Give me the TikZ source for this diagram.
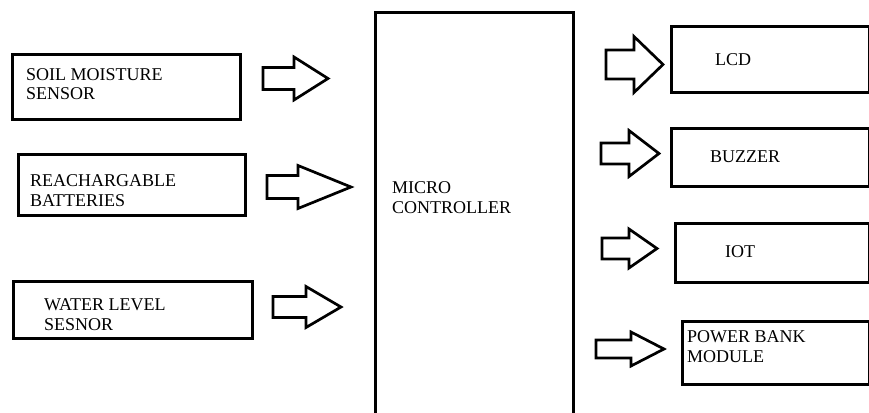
\documentclass[tikz,border=0pt]{standalone}
\usepackage{fontspec}
\setmainfont{Liberation Serif}
\usetikzlibrary{calc}
\tikzset{
  blk/.style={draw=black,rectangle,line width=2.8pt,inner sep=0pt,anchor=north west},
  lbl/.style={font=\fontsize{18}{19.5}\selectfont,align=left,inner sep=0pt,anchor=base west},
  fat/.style={draw=black,line width=2.7pt,line join=miter,fill=white},
}
% block arrow: tail x, head base x, tip x, centre y, half shaft, half head
\newcommand{\fatarrow}[6]{\draw[fat] (#1,#4-#5) -- (#2,#4-#5) -- (#2,#4-#6) -- (#3,#4) -- (#2,#4+#6) -- (#2,#4+#5) -- (#1,#4+#5) -- cycle;}

\begin{document}
\begin{tikzpicture}[x=1pt,y=-1pt]
\useasboundingbox (0,0) rectangle (869,412);
% inputs
\node[blk,minimum width=228,minimum height=65] (soil) at (11,53) {};
\node[blk,minimum width=227,minimum height=61] (batt) at (17,153) {};
\node[blk,minimum width=239,minimum height=57] (water) at (12,280) {};
\node[lbl] (soilt) at (26,99.5) {SOIL MOISTURE\\SENSOR};
\node[lbl] (battt) at (30,206) {REACHARGABLE\\BATTERIES};
\node[lbl] (watert) at (44,330) {WATER LEVEL\\SESNOR};
% controller
\node[blk,minimum width=198,minimum height=420] (mcu) at (374,11) {};
\node[lbl] (mcut) at (392,213) {MICRO\\CONTROLLER};
% outputs
\node[blk,minimum width=198,minimum height=66] (lcd) at (670,25) {};
\node[blk,minimum width=198,minimum height=58] (buzz) at (670,127) {};
\node[blk,minimum width=194,minimum height=59] (iot) at (674,222) {};
\node[blk,minimum width=187,minimum height=63] (pwr) at (681,320) {};
\node[lbl] (lcdt) at (715,65) {LCD};
\node[lbl] (buzzt) at (710,162) {BUZZER};
\node[lbl] (iott) at (725,257) {IOT};
\node[lbl] (pwrt) at (687,362) {POWER BANK\\MODULE};
% arrows
\fatarrow{263}{294}{328}{78.5}{11}{21.5}
\fatarrow{267}{298}{351}{187}{11.5}{21.5}
\fatarrow{273}{306}{341}{307}{10.5}{20.5}
\fatarrow{606}{634}{663}{64.5}{14.5}{28}
\fatarrow{601}{629}{659}{153.5}{10.5}{23}
\fatarrow{602}{629}{657}{248.5}{10.5}{19.5}
\fatarrow{596}{631}{664}{349}{9}{17}
\end{tikzpicture}
\end{document}
